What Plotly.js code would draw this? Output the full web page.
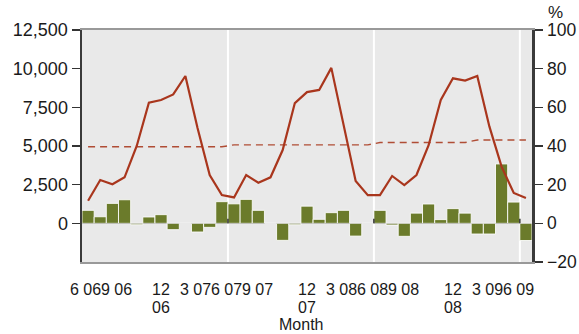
<!DOCTYPE html>
<html>
<head>
<meta charset="utf-8">
<script src="https://cdn.plot.ly/plotly-3.0.1.min.js"></script>
<style>
  html, body { margin: 0; padding: 0; background: #ffffff; }
  #chart { width: 579px; height: 334px; }
</style>
</head>
<body>
<div id="chart"></div>
<script>
// ---- data ----
const months = [
  '2006-06','2006-07','2006-08','2006-09','2006-10','2006-11','2006-12','2007-01','2007-02','2007-03','2007-04','2007-05',
  '2007-06','2007-07','2007-08','2007-09','2007-10','2007-11','2007-12','2008-01','2008-02','2008-03','2008-04','2008-05',
  '2008-06','2008-07','2008-08','2008-09','2008-10','2008-11','2008-12','2009-01','2009-02','2009-03','2009-04','2009-05',
  '2009-06'
];
// bars, left axis (units)
const barValues = [
  840, 425, 1290, 1525, -90, 410, 560, -410, 0, -560, -260, 1400,
  1260, 1550, 840, 0, -1100, -90, 1110, 260, 690, 840, -825, 0,
  840, -110, -840, 660, 1250, 240, 950, 660, -690, -690, 3840, 1375,
  -1110
];
// solid line, right axis (%)
const lineValues = [
  11.7, 22.4, 20.2, 23.8, 40.0, 62.4, 63.8, 66.7, 76.2, 49.3, 25.0, 14.6,
  13.4, 25.0, 21.0, 23.8, 37.9, 62.2, 67.9, 69.0, 80.4, 52.0, 21.9, 14.6,
  14.6, 24.5, 19.8, 25.0, 40.4, 63.8, 75.0, 73.8, 76.2, 50.0, 29.3, 15.7,
  13.1
];
// dashed line, right axis (%)
const avgValues = [
  39.6, 39.6, 39.6, 39.6, 39.6, 39.6, 39.6, 39.6, 39.6, 39.6, 39.6, 39.6,
  40.6, 40.6, 40.6, 40.6, 40.6, 40.6, 40.6, 40.6, 40.6, 40.6, 40.6, 40.6,
  41.8, 41.8, 41.8, 41.8, 41.8, 41.8, 41.8, 41.8, 43.1, 43.1, 43.1, 43.1,
  43.1
];
const leftTicks = [0, 2500, 5000, 7500, 10000, 12500];
const rightTicks = [-20, 0, 20, 40, 60, 80, 100];
const tickIdx = [0, 3, 6, 9, 12, 15, 18, 21, 24, 27, 30, 33, 36];
const tickLabels = ['6 06', '9 06', '12', '3 07', '6 07', '9 07', '12', '3 08', '6 08', '9 08', '12', '3 09', '6 09'];
const yearIdx = [6, 18, 30];
const yearLabels = ['06', '07', '08'];
const yearBreaks = [11.5, 23.5, 35.5];

// ---- layout constants ----
const labelShift = [-2.5, -7.9, 0, -2.0, -7.4, -12.7, 0, -2.0, -7.4, -12.7, 0, -2.0, -7.4];
const FONT = 'Liberation Sans, Arial, sans-serif';
const txt = '#1a1a1a';

const traces = [
  {
    type: 'bar', x: months, y: barValues, yaxis: 'y',
    marker: { color: '#6b7b2b', line: { color: 'rgba(255,255,255,0.85)', width: 1 } },
    hoverinfo: 'skip'
  },
  {
    type: 'scatter', mode: 'lines', x: months, y: avgValues, yaxis: 'y2',
    line: { color: '#b04d35', width: 1.4, dash: '7px,5px' }, hoverinfo: 'skip'
  },
  {
    type: 'scatter', mode: 'lines', x: months, y: lineValues, yaxis: 'y2',
    line: { color: '#a9361d', width: 2.2 }, hoverinfo: 'skip'
  }
];

const annotations = [];
tickIdx.forEach((ix, k) => {
  annotations.push({
    xref: 'x', yref: 'paper', x: ix, y: 0, xanchor: 'center', yanchor: 'middle',
    xshift: labelShift[k], yshift: -27, showarrow: false, text: tickLabels[k],
    font: { family: FONT, size: 16, color: txt }
  });
});
yearIdx.forEach((ix, k) => {
  annotations.push({
    xref: 'x', yref: 'paper', x: ix, y: 0, xanchor: 'center', yanchor: 'middle',
    yshift: -45, showarrow: false, text: yearLabels[k],
    font: { family: FONT, size: 16, color: txt }
  });
});
annotations.push({
  xref: 'paper', yref: 'paper', x: 0.4867, y: 0, xanchor: 'center', yanchor: 'middle',
  yshift: -62, showarrow: false, text: 'Month', font: { family: FONT, size: 16, color: txt }
});
annotations.push({
  xref: 'paper', yref: 'paper', x: 1.0533, y: 1, xanchor: 'center', yanchor: 'middle',
  yshift: 18, showarrow: false, text: '%', font: { family: FONT, size: 17, color: txt }
});

const shapes = [];
yearBreaks.forEach(b => {
  shapes.push({ type: 'line', xref: 'x', yref: 'paper', x0: b, x1: b, y0: 0, y1: 1,
    line: { color: '#ffffff', width: 2 }, layer: 'below' });
  shapes.push({ type: 'line', xref: 'x', yref: 'y', x0: b, x1: b, y0: 0, y1: 300,
    line: { color: '#333333', width: 1.5 }, layer: 'above' });
});

const layout = {
  width: 579, height: 334,
  margin: { l: 82, r: 47, t: 30, b: 72, pad: 0 },
  paper_bgcolor: '#ffffff', plot_bgcolor: '#e9e9e9',
  showlegend: false, bargap: 0,
  font: { family: FONT, size: 16, color: txt },
  xaxis: {
    type: 'category', range: [-0.5, 36.5], showticklabels: false, ticks: '',
    showgrid: false, zeroline: false, showline: true, linecolor: '#999999', linewidth: 2, mirror: true,
    fixedrange: true
  },
  yaxis: {
    range: [-2500, 12500], tickvals: leftTicks, tickformat: ',d', ticks: 'outside', ticklen: 8,
    tickwidth: 1.5, tickcolor: '#333', showgrid: false, showline: true, linecolor: '#3a3a3a', linewidth: 2.5,
    zeroline: true, zerolinecolor: '#000000', zerolinewidth: 1.3,
    tickfont: { family: FONT, size: 18, color: txt }, fixedrange: true
  },
  yaxis2: {
    overlaying: 'y', side: 'right', range: [-20, 100], tickvals: rightTicks, ticks: 'outside', ticklen: 8,
    tickwidth: 1.5, tickcolor: '#333', showgrid: false, showline: true, linecolor: '#3a3a3a', linewidth: 2.5,
    zeroline: false, ticklabelstandoff: 1, tickfont: { family: FONT, size: 17.5, color: txt }, fixedrange: true
  },
  annotations: annotations,
  shapes: shapes
};

Plotly.newPlot('chart', traces, layout, { staticPlot: true, displayModeBar: false });
</script>
</body>
</html>
